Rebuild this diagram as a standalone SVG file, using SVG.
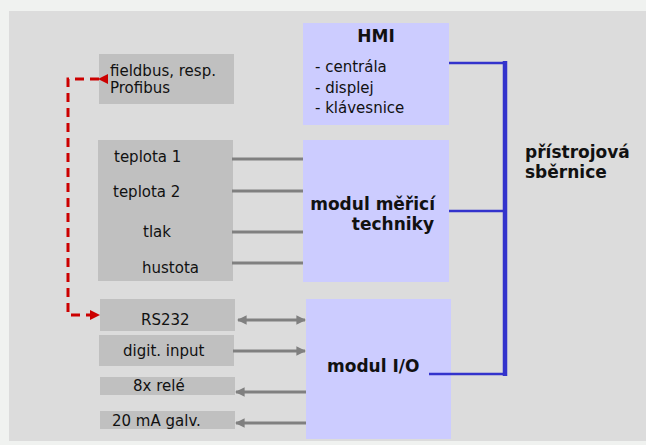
<svg xmlns="http://www.w3.org/2000/svg" width="646" height="445" viewBox="0 0 646 445">
<style>
text{font-family:"DejaVu Sans",Verdana,sans-serif;fill:#111;}
.t{font-size:15px;}
.b{font-size:17px;font-weight:bold;}
.gray{fill:#c0c0c0;}
.blue{fill:#ccccff;}
.wire{stroke:#808080;stroke-width:3;fill:none;}
.bus{stroke:#3333cc;fill:none;}
.red{stroke:#cc0000;stroke-width:3;fill:none;stroke-dasharray:9 6;}
</style>
<defs>
<marker id="ag" viewBox="0 0 10 10" refX="9" refY="5" markerWidth="4" markerHeight="3.2" orient="auto-start-reverse" markerUnits="strokeWidth"><path d="M0,0 L10,5 L0,10 z" fill="#808080"/></marker>
<marker id="ar" viewBox="0 0 10 10" refX="9" refY="5" markerWidth="3.4" markerHeight="3.4" orient="auto" markerUnits="strokeWidth"><path d="M0,0 L10,5 L0,10 z" fill="#cc0000"/></marker>
</defs>
<rect x="0" y="0" width="646" height="445" fill="#f0f2f0"/>
<rect x="9" y="11" width="637" height="430" fill="#dcdcdc"/>

<g id="hmi">
<rect class="blue" x="303" y="23" width="146" height="102"/>
<text class="b" x="376" y="42" text-anchor="middle">HMI</text>
<text class="t" x="315" y="72">- centrála</text>
<text class="t" x="315" y="93">- displej</text>
<text class="t" x="315" y="113">- klávesnice</text>
</g>
<g id="fieldbus">
<rect class="gray" x="99" y="54" width="135" height="50"/>
<text class="t" x="110" y="76">fieldbus, resp.</text>
<text class="t" x="110" y="93">Profibus</text>
</g>
<g id="sensors">
<rect class="gray" x="98" y="140" width="135" height="141"/>
<text class="t" x="114" y="162">teplota 1</text>
<text class="t" x="113" y="197">teplota 2</text>
<text class="t" x="143" y="237">tlak</text>
<text class="t" x="142" y="273">hustota</text>
</g>
<g id="modul-mereni">
<rect class="blue" x="303" y="140" width="146" height="142"/>
<text class="b" x="435" y="210" text-anchor="end">modul měřicí</text>
<text class="b" x="434" y="230" text-anchor="end">techniky</text>
</g>
<g id="rs232">
<rect class="gray" x="100" y="299" width="135" height="32"/>
<text class="t" x="141" y="325">RS232</text>
</g>
<g id="digit">
<rect class="gray" x="99" y="335" width="135" height="31"/>
<text class="t" x="123" y="356">digit. input</text>
</g>
<g id="rele">
<rect class="gray" x="100" y="377" width="135" height="18"/>
<text class="t" x="133" y="391">8x relé</text>
</g>
<g id="galv">
<rect class="gray" x="100" y="411" width="135" height="18"/>
<text class="t" x="112" y="426">20 mA galv.</text>
</g>
<g id="modul-io">
<rect class="blue" x="306" y="299" width="145" height="140"/>
<text class="b" x="327" y="372">modul I/O</text>
</g>
<g id="bus-label">
<text class="b" x="525" y="158">přístrojová</text>
<text class="b" x="525" y="178">sběrnice</text>
</g>

<g id="connectors">
<path class="bus" stroke-width="2.5" d="M449,63 H505"/>
<path class="bus" stroke-width="2.5" d="M449,211 H505"/>
<path class="bus" stroke-width="2.5" d="M429,374 H505"/>
<path class="bus" stroke-width="4.5" d="M505,61 V376"/>
<path class="wire" d="M232,159 H303"/>
<path class="wire" d="M232,191 H303"/>
<path class="wire" d="M232,232 H303"/>
<path class="wire" d="M232,263 H303"/>
<path class="wire" d="M238,320 H305" marker-start="url(#ag)" marker-end="url(#ag)"/>
<path class="wire" d="M233,351 H305" marker-end="url(#ag)"/>
<path class="wire" d="M306,392 H236" marker-end="url(#ag)"/>
<path class="wire" d="M306,423 H236" marker-end="url(#ag)"/>
<path class="red" d="M99,79 H68 V315 H99" marker-start="url(#ar)" marker-end="url(#ar)"/>
</g>
</svg>
